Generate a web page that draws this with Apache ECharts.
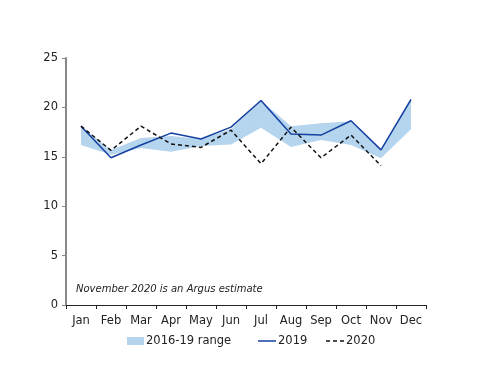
<!DOCTYPE html>
<html><head><meta charset="utf-8">
<script src="https://cdn.jsdelivr.net/npm/echarts@6/dist/echarts.min.js"></script>
<style>html,body{margin:0;padding:0;background:#fff}#c{width:500px;height:386px}</style>
</head><body><div id="c"></div>
<script>
const months = ['Jan','Feb','Mar','Apr','May','Jun','Jul','Aug','Sep','Oct','Nov','Dec'];
const rangeLow  = [16.2, 15.2, 15.9, 15.5, 16.1, 16.25, 17.95, 16.0, 16.7, 16.2, 14.85, 17.8];
const rangeHigh = [18.1, 15.7, 16.9, 17.1, 16.8, 17.8, 20.7, 18.1, 18.4, 18.6, 15.7, 20.8];
const s2019 = [18.1, 14.9, 16.2, 17.4, 16.8, 18.0, 20.7, 17.3, 17.2, 18.65, 15.7, 20.8];
const s2020 = [18.1, 15.65, 18.1, 16.3, 15.95, 17.7, 14.3, 18.0, 14.9, 17.2, 14.1, null];
const yTicks = [0, 5, 10, 15, 20, 25];
const note = 'November 2020 is an Argus estimate';

const FONT = 'DejaVu Sans';
const bandColor = '#b5d5ef';
const blue = '#1440a0';
const chart = echarts.init(document.getElementById('c'), null, {renderer: 'canvas'});
const diff = rangeHigh.map((h, i) => +(h - rangeLow[i]).toFixed(3));
const legText = {fontFamily: FONT, fontSize: 11.5, color: '#222', padding: [0,0,0,-3]};
chart.setOption({
  animation: false,
  textStyle: {fontFamily: FONT},
  grid: {left: 66, top: 58, right: 74, bottom: 81},
  legend: [
    {data: [{name: '2016-19 range', icon: 'rect', itemStyle: {color: bandColor}}], left: 122, top: 330, itemWidth: 17, itemHeight: 8, textStyle: legText},
    {data: [{name: '2019', icon: 'path://M0,0H18V1.5H0Z', itemStyle: {color: blue}}], left: 253, top: 330, itemWidth: 18, itemHeight: 1.5, textStyle: legText},
    {data: [{name: '2020', icon: 'path://M0,0H4V1.5H0Z M7,0H11V1.5H7Z M14,0H18V1.5H14Z', itemStyle: {color: '#111'}}], left: 321, top: 330, itemWidth: 18, itemHeight: 1.5, textStyle: legText}
  ],
  xAxis: {
    type: 'category', data: months, boundaryGap: true,
    axisLine: {lineStyle: {color: '#222', width: 1}},
    axisTick: {show: true, interval: 0, alignWithLabel: false, length: 4, lineStyle: {color: '#222'}},
    axisLabel: {interval: 0, fontFamily: FONT, fontSize: 11.5, color: '#222', margin: 10}
  },
  yAxis: {
    type: 'value', min: yTicks[0], max: yTicks[yTicks.length - 1], interval: 5,
    axisLine: {show: true, lineStyle: {color: '#888', width: 2}},
    axisTick: {show: true, length: 4, lineStyle: {color: '#888'}},
    splitLine: {show: false},
    axisLabel: {fontFamily: FONT, fontSize: 11.5, color: '#222', margin: 8}
  },
  graphic: [{type: 'text', left: 76, top: 284, style: {text: note, font: 'italic 10px "DejaVu Sans"', fill: '#222'}}],
  series: [
    {name: 'low', type: 'line', data: rangeLow, stack: 'band', symbol: 'none', lineStyle: {opacity: 0}, silent: true},
    {name: '2016-19 range', type: 'line', data: diff, stack: 'band', symbol: 'none', lineStyle: {opacity: 0},
     areaStyle: {color: bandColor, opacity: 1}, itemStyle: {color: bandColor}},
    {name: '2019', type: 'line', data: s2019, symbol: 'none', lineStyle: {color: blue, width: 1.5}, itemStyle: {color: blue}},
    {name: '2020', type: 'line', data: s2020, symbol: 'none', lineStyle: {color: '#111', width: 1.5, type: [4, 3]}, itemStyle: {color: '#111'}}
  ]
});
</script></body></html>
